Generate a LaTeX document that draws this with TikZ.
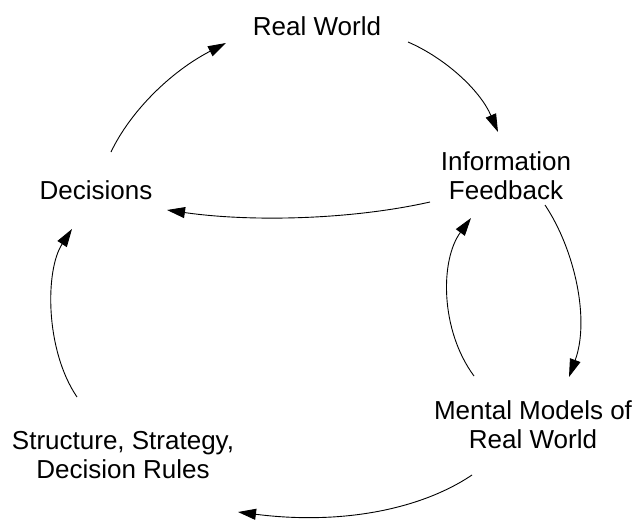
\documentclass[tikz,border=0pt]{standalone}
\usepackage{fontspec}
\setmainfont{Liberation Sans}
\usetikzlibrary{arrows.meta}
\begin{document}
\begin{tikzpicture}[x=1pt,y=-1pt,
  lbl/.style={inner sep=0pt,align=center,font=\fontsize{26}{29}\selectfont},
  flow/.style={line width=0.9pt,-{Triangle[length=18pt,width=11pt]}}]
\useasboundingbox (0,0) rectangle (634,520);
\node[lbl] (rw) at (317,26) {Real World};
\node[lbl] (info) at (506,176) {Information\\Feedback};
\node[lbl] (dec) at (96,190) {Decisions};
\node[lbl] (mm) at (533,425) {Mental Models of\\Real World};
\node[lbl] (ssd) at (123,455) {Structure, Strategy,\\Decision Rules};
% connectors (end points on the boundary region of the named nodes)
\coordinate (a1) at (111,152); \coordinate (b1) at (226,43);
\coordinate (a2) at (408,42); \coordinate (b2) at (498,132);
\coordinate (a3) at (430,202); \coordinate (b3) at (167,210);
\coordinate (a4) at (545,205); \coordinate (b4) at (569,377);
\coordinate (a5) at (474,376); \coordinate (b5) at (471,218);
\coordinate (a6) at (472,475); \coordinate (b6) at (238,512);
\coordinate (a7) at (77,397); \coordinate (b7) at (72,229);
\draw[flow] (a1) .. controls (130,112) and (170,72) .. (b1);
\draw[flow] (a2) .. controls (445,58) and (480,90) .. (b2);
\draw[flow] (a3) .. controls (350,220) and (250,222) .. (b3);
\draw[flow] (a4) .. controls (575,250) and (590,320) .. (b4);
\draw[flow] (a5) .. controls (440,330) and (440,260) .. (b5);
\draw[flow] (a6) .. controls (420,510) and (340,525) .. (b6);
\draw[flow] (a7) .. controls (45,350) and (45,270) .. (b7);
\end{tikzpicture}
\end{document}
